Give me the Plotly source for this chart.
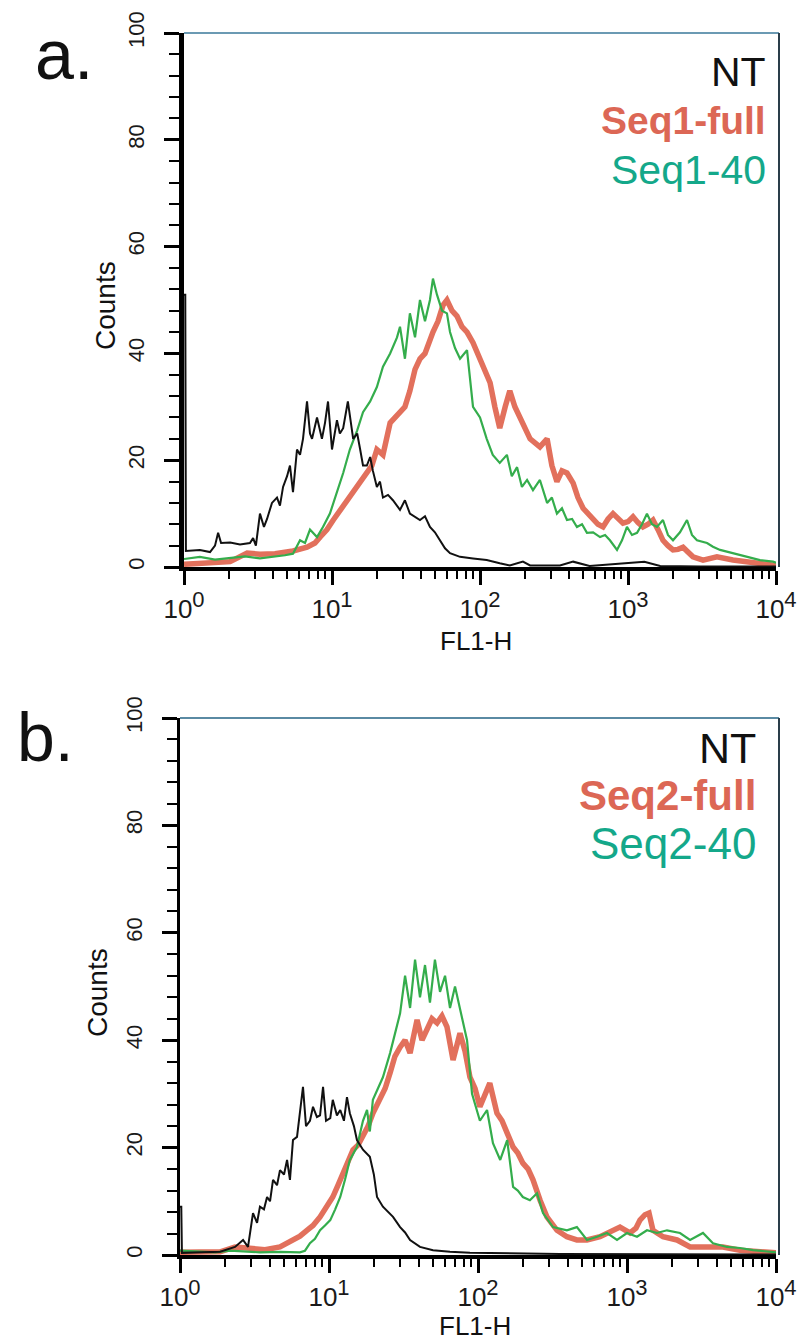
import plotly.graph_objects as go

# ---------------- DATA ----------------
# Panel a
a_nt_x = [1.0, 1.02, 1.03, 1.28, 1.50, 1.62, 1.70, 1.78, 2.05, 2.39, 2.79, 2.93, 3.06, 3.26, 3.47, 3.64, 3.93, 4.25,
          4.45, 4.67, 4.97, 5.20, 5.45, 5.80, 6.08, 6.37, 6.78, 7.10, 7.33, 7.92, 8.55, 8.97, 9.40, 10.0, 10.8, 11.3,
          11.9, 12.8, 13.9, 14.8, 15.5, 16.2, 17.2, 18.1, 18.9, 20.1, 21.1, 22.1, 23.9, 25.8, 28.8, 31.1, 33.6, 39.3,
          42.5, 45.9, 49.6, 53.7, 58.0, 62.7, 73.3, 89.7, 111, 136, 159, 195, 218, 347, 426, 550, 1290, 1650, 3090, 10000]
a_nt_y = [51, 51, 3, 3.2, 2.8, 4, 6.4, 4.5, 4.6, 4.2, 4.5, 5.4, 4, 10, 7.5, 9, 12, 13,
          11.5, 15, 17, 19, 14, 22, 21, 24, 31, 25, 24, 28, 24, 27, 31, 22, 27.5, 25,
          26, 31, 24, 25, 22, 19, 19, 20.6, 18, 15, 16, 13, 13.5, 12.5, 10.7, 12.5, 10, 8.8,
          9.5, 7.5, 6.5, 5, 3.5, 2.6, 1.9, 1.6, 1.3, 0.7, 0.3, 1.0, 0.3, 0.3, 1.0, 0.2, 1.0, 0.2, 0.1, 0.1]

a_full_x = [1.0, 1.28, 2.05, 2.67, 3.26, 4.12, 5.45, 6.78, 7.67, 8.30, 9.25, 10.2, 11.3, 12.6, 13.9, 15.5, 17.2, 18.6,
            20.1, 22.1, 24.7, 26.7, 28.8, 31.1, 33.6, 36.4, 39.3, 42.5, 48.1, 52.0, 56.2, 59.8, 64.7, 69.9, 75.5,
            81.7, 89.7, 100, 108, 117, 126, 136, 148, 159, 172, 186, 218, 254, 284, 306, 331, 358, 387, 426, 459,
            497, 537, 581, 627, 678, 733, 792, 855, 925, 1000, 1081, 1169, 1262, 1365, 1476, 1595, 1723, 1862, 2014,
            2178, 2355, 2541, 2748, 3214, 3990, 5117, 6368, 7798, 9550, 10000]
a_full_y = [0.5, 0.6, 1.0, 2.6, 2.4, 2.5, 3, 3.7, 4.5, 5.6, 7, 8.8, 10.5, 12.5, 14, 15.7, 17.6, 19,
            22, 21, 27, 28, 29, 30, 33, 37, 39, 40, 44, 46, 49, 50, 48, 47, 45,
            44, 42, 39, 37, 34.5, 30, 26, 30, 33, 30, 28, 24, 22.5, 24, 19, 16, 18, 17.6, 15.7, 13,
            11, 10, 8.8, 8, 7.5, 9, 10, 9, 8.2, 8.5, 9.4, 8.3, 7.5, 8, 8.8, 7, 5, 4, 3.2,
            3.3, 3.7, 2.8, 1.9, 1.3, 1.9, 1.3, 1.0, 0.7, 0.4, 0.3]

a_40_x = [1.0, 1.28, 1.62, 2.05, 2.58, 3.26, 4.12, 4.81, 5.45, 6.08, 6.57, 7.10, 7.92, 8.69, 9.68, 10.8, 11.9, 13.2,
          14.8, 16.2, 18.1, 20.1, 22.1, 24.7, 27.5, 28.8, 31.1, 33.6, 36.4, 39.3, 42.5, 45.9, 48.1, 51.2, 55.4, 59.8,
          62.7, 67.8, 73.3, 81.7, 89.7, 100, 111, 122, 136, 152, 164, 178, 192, 208, 228, 254, 284, 306, 331, 358,
          387, 419, 452, 489, 528, 581, 647, 700, 755, 843, 911, 984, 1064, 1151, 1244, 1343, 1452, 1570, 1723, 1862,
          2014, 2245, 2504, 2706, 2924, 3420, 3750, 4188, 5117, 6368, 7798, 9550, 10000]
a_40_y = [1.5, 1.9, 1.4, 1.7, 2.0, 1.6, 1.9, 2.2, 2.5, 5, 4.5, 7, 5.6, 7.5, 10, 14, 17.6, 22,
          25.6, 29, 31, 33.7, 37.5, 40, 43, 45, 39, 47.5, 43, 50, 46, 50, 54, 51, 48, 47.5,
          44, 41, 39, 40.6, 30, 28, 24, 21, 19.5, 21, 17, 18.7, 15, 16.3, 14.4, 16.3, 12, 13, 10, 11,
          8.8, 9, 7.5, 8, 6.4, 6.5, 5.6, 6, 5, 3.2, 5, 7.5, 6, 6.4, 8, 10, 8, 7.5, 8.8, 6,
          5, 6.5, 8.8, 6, 5, 4.5, 3.8, 3.2, 2.6, 1.9, 1.3, 1.0, 0.8]

# Panel b
b_nt_x = [1.0, 1.02, 1.03, 1.36, 1.86, 2.34, 2.65, 2.86, 3.09, 3.29, 3.44, 3.66, 3.84, 4.02, 4.21, 4.48, 4.69, 4.99,
          5.23, 5.47, 5.73, 6.10, 6.38, 6.69, 7.01, 7.45, 7.81, 8.30, 8.71, 9.12, 9.55, 10.2, 10.6, 11.3, 11.9, 12.6,
          13.2, 13.8, 14.7, 15.4, 16.9, 18.8, 20.0, 21.0, 23.0, 24.9, 26.9, 30.0, 32.4, 35.0, 40.8, 49.9, 64.9, 88.3,
          141, 355, 10000]
b_nt_y = [9, 9, 0.4, 0.5, 0.6, 1.5, 2.8, 1.5, 7.8, 6, 9, 8.5, 10.8, 10, 14, 13, 15.8, 15,
          17.7, 14, 21.4, 22, 26.4, 31.3, 24, 25, 27.6, 25.7, 26, 31.3, 25, 25.5, 28.9, 26, 27, 25,
          29.4, 26.4, 24, 21.4, 19.6, 18.3, 15, 10.8, 9, 8, 7.1, 5.2, 4.2, 2.8, 1.5, 0.9, 0.6, 0.4,
          0.3, 0.2, 0.1]

b_full_x = [1.0, 1.36, 1.86, 2.34, 2.95, 3.72, 4.69, 5.73, 6.38, 7.11, 7.81, 8.71, 9.70, 10.6, 11.5, 12.4, 13.4, 14.5,
            15.7, 16.9, 18.3, 19.7, 22.0, 23.8, 25.7, 27.7, 30.0, 32.4, 35.0, 39.0, 42.1, 45.5, 49.1, 53.1, 57.3,
            61.9, 68.0, 75.7, 81.8, 88.3, 95.5, 103, 111, 120, 134, 145, 157, 172, 185, 200, 217, 234, 261, 290,
            339, 395, 461, 539, 659, 805, 897, 1047, 1148, 1222, 1320, 1405, 1494, 1744, 2167, 2651, 3443, 4407,
            5728, 7810, 10000]
b_full_y = [0.5, 0.5, 0.6, 1.5, 1.2, 1.0, 1.5, 2.8, 3.5, 4.6, 5.5, 7.1, 9, 10.8, 13, 15.2, 17, 19.6,
            20.5, 22, 24, 26.4, 28.9, 31, 33.9, 37, 38.7, 40, 37.6, 43.8, 40, 41.9, 44, 43.2, 44.5,
            42.5, 36.3, 41.3, 38, 33.1, 31, 27.6, 30, 32, 26.4, 25, 22.7, 20.1, 19, 17.1, 16, 14, 10.2, 7.1,
            4.6, 3.4, 2.8, 2.8, 3.4, 4.6, 5.2, 4.1, 5, 6.5, 7.5, 7.8, 4.6, 3.4, 2.8, 1.5, 1.5, 1.5,
            0.9, 0.6, 0.4]

b_40_x = [1.0, 1.36, 1.72, 2.17, 2.73, 3.44, 4.69, 6.38, 6.90, 7.45, 8.05, 8.71, 9.40, 10.2, 11.0, 11.9, 12.8, 13.8,
          15.4, 16.9, 18.0, 18.8, 19.7, 21.3, 23.0, 25.7, 28.6, 30.0, 32.4, 35.0, 37.8, 40.8, 44.1, 47.6, 51.4, 55.6,
          60.1, 64.9, 70.1, 75.7, 84.4, 91.2, 103, 115, 126, 141, 157, 172, 185, 200, 223, 249, 273, 319, 395, 461,
          539, 629, 734, 857, 1000, 1167, 1362, 1589, 1855, 2268, 2651, 3236, 3776, 4690, 5728, 7015, 8710, 10000]
b_40_y = [0.8, 0.6, 0.5, 0.8, 0.6, 0.5, 0.6, 0.5, 0.8, 2.2, 3, 4.6, 5.5, 6.5, 8.5, 10.8, 14, 17.7,
          20.1, 25, 27, 23, 28.9, 31, 33.1, 37.6, 42.5, 45, 52, 46, 55, 48, 54, 47, 55, 49,
          52, 46, 50, 45.6, 40, 30, 25, 27, 20.8, 17.7, 21.4, 12.7, 12, 10.8, 10.2, 11.5, 7.8, 5.2, 4.6, 5.2,
          2.8, 3.4, 4.1, 2.8, 4.1, 3.4, 4.6, 4.1, 4.6, 4.1, 2.8, 4.1, 2.2, 1.5, 1.3, 0.9, 0.6, 0.5]

x_tick_vals = [1, 10, 100, 1000, 10000]
x_tick_exps = ["0", "1", "2", "3", "4"]
y_tick_vals = [0, 20, 40, 60, 80, 100]
legend_a = ["NT", "Seq1-full", "Seq1-40"]
legend_b = ["NT", "Seq2-full", "Seq2-40"]
panel_labels = ["a.", "b."]
x_title = "FL1-H"
y_title = "Counts"

# ---------------- STYLE ----------------
W, H = 804, 1340
FONT = "Liberation Sans, Arial, Helvetica, sans-serif"
C_NT = "#111111"
C_FULL = "#e2705c"
C_40 = "#34ad4c"
C_40_TEXT = "#14a88a"
C_FULL_TEXT = "#dc6755"

x_tick_text = ['10<sup><span style="font-size:22px">%s</span></sup>' % e for e in x_tick_exps]


def px(x):
    return x / W


def py(y):
    return 1 - y / H


minor_x = [m * 10 ** e for e in range(4) for m in range(2, 10)]

fig = go.Figure()

series = [
    ("x", "y", a_full_x, a_full_y, C_FULL, 5.5, legend_a[1]),
    ("x", "y", a_40_x, a_40_y, C_40, 2.2, legend_a[2]),
    ("x", "y", a_nt_x, a_nt_y, C_NT, 2.0, legend_a[0]),
    ("x2", "y2", b_full_x, b_full_y, C_FULL, 5.5, legend_b[1]),
    ("x2", "y2", b_40_x, b_40_y, C_40, 2.2, legend_b[2]),
    ("x2", "y2", b_nt_x, b_nt_y, C_NT, 2.0, legend_b[0]),
]
for xa, ya, xs, ys, col, w, name in series:
    fig.add_trace(go.Scatter(x=xs, y=ys, xaxis=xa, yaxis=ya, mode="lines", name=name,
                             line=dict(color=col, width=w), showlegend=False, hoverinfo="skip"))

panels = {
    "a": dict(x0=184, x1=776, y0=33, y1=567),
    "b": dict(x0=180, x1=776, y0=718, y1=1255),
}


def xaxis_cfg(p, anchor):
    return dict(type="log", range=[0, 4], domain=[px(p["x0"]), px(p["x1"])], anchor=anchor,
                automargin=False,
                showline=True, linecolor="black", linewidth=4, showgrid=False, zeroline=False,
                tickmode="array", tickvals=x_tick_vals, ticktext=x_tick_text,
                ticks="outside", ticklen=14, tickwidth=2.5, tickcolor="black",
                tickfont=dict(family=FONT, size=26, color="#1a1a1a"), ticklabelstandoff=2,
                minor=dict(tickmode="array", tickvals=minor_x, ticks="outside", ticklen=8,
                           tickwidth=2, tickcolor="black", showgrid=False),
                fixedrange=True)


def yaxis_cfg(p, anchor, lw):
    return dict(range=[0, 100], domain=[py(p["y1"]), py(p["y0"])], anchor=anchor,
                automargin=False,
                showline=True, linecolor="black", linewidth=lw, showgrid=False, zeroline=False,
                tickmode="linear", tick0=0, dtick=20, tickangle=-90,
                ticks="outside", ticklen=15, tickwidth=2.5, tickcolor="black",
                tickfont=dict(family=FONT, size=22, color="#1a1a1a"), ticklabelstandoff=11,
                minor=dict(dtick=4, ticks="outside", ticklen=10, tickwidth=2, tickcolor="black",
                           showgrid=False),
                fixedrange=True)


fig.update_layout(
    width=W, height=H, margin=dict(l=0, r=0, t=0, b=0, autoexpand=False),
    paper_bgcolor="white", plot_bgcolor="white",
    xaxis=xaxis_cfg(panels["a"], "y"),
    yaxis=yaxis_cfg(panels["a"], "x", 5),
    xaxis2=xaxis_cfg(panels["b"], "y2"),
    yaxis2=yaxis_cfg(panels["b"], "x2", 3),
)

shapes = []
for key, top_col in (("a", "#6b9ab3"), ("b", "#5a8aa3")):
    p = panels[key]
    shapes.append(dict(type="line", xref="paper", yref="paper", x0=px(p["x0"]), x1=px(p["x1"] + 3),
                       y0=py(p["y0"]), y1=py(p["y0"]), line=dict(color=top_col, width=2)))
    shapes.append(dict(type="line", xref="paper", yref="paper", x0=px(p["x1"] + 3), x1=px(p["x1"] + 3),
                       y0=py(p["y0"]), y1=py(p["y1"]), line=dict(color="#2a3d4a", width=2)))
fig.update_layout(shapes=shapes)

ann = []


def text(t, x, y, size, color="#111111", xanchor="center", angle=0, bold=False):
    ann.append(dict(text=("<b>%s</b>" % t) if bold else t, x=px(x), y=py(y), xref="paper", yref="paper",
                    showarrow=False, xanchor=xanchor, yanchor="middle", textangle=angle,
                    font=dict(family=FONT, size=size, color=color)))


# panel letters
text(panel_labels[0], 33, 55, 70, xanchor="left")
text(panel_labels[1], 15, 737, 68, xanchor="left")
# axis titles
text(y_title, 105, 305, 28, angle=-90)
text(y_title, 97, 993, 28, angle=-90)
text(x_title, 476, 641, 26)
text(x_title, 475, 1326, 26)
# legends
text(legend_a[0], 768, 72, 41, C_NT, xanchor="right")
text(legend_a[1], 768, 120, 39, C_FULL_TEXT, xanchor="right", bold=True)
text(legend_a[2], 768, 170, 41, C_40_TEXT, xanchor="right")
text(legend_b[0], 758, 748, 43, C_NT, xanchor="right")
text(legend_b[1], 758, 795, 42, C_FULL_TEXT, xanchor="right", bold=True)
text(legend_b[2], 758, 843, 44, C_40_TEXT, xanchor="right")
fig.update_layout(annotations=ann)

fig.write_html("out.html")
